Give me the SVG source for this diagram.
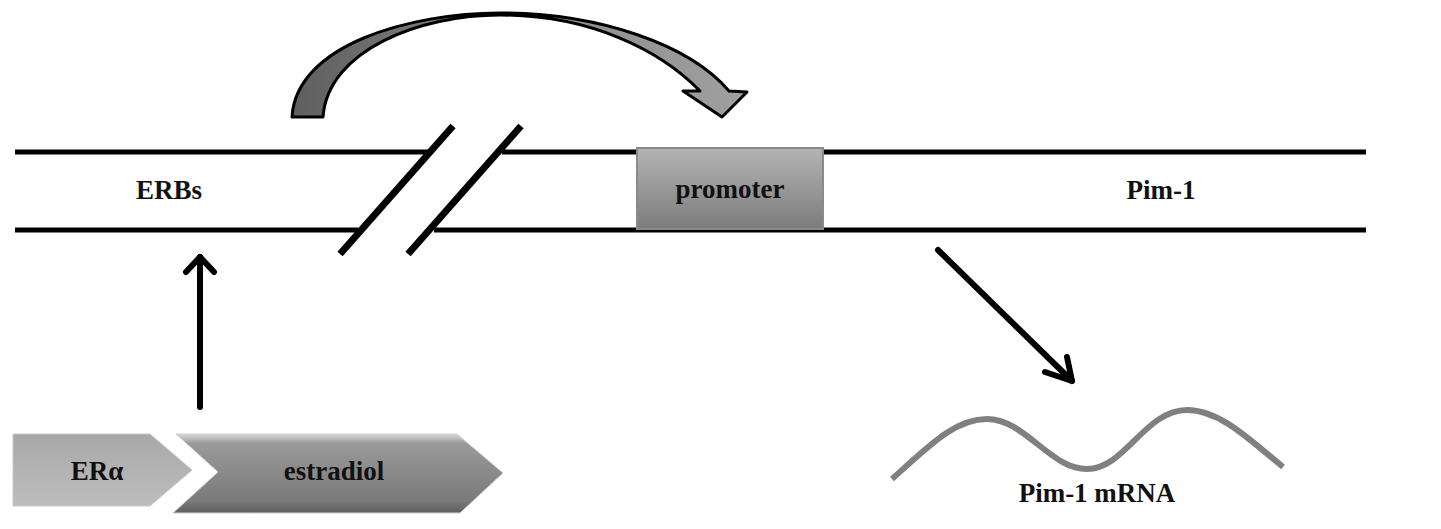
<svg xmlns="http://www.w3.org/2000/svg" width="1441" height="529" viewBox="0 0 1441 529">
<defs>
<linearGradient id="gBox" x1="0" y1="0" x2="0" y2="1"><stop offset="0" stop-color="#b4b4b4"/><stop offset="1" stop-color="#7c7c7c"/></linearGradient>
<linearGradient id="gCurve" x1="0" y1="0" x2="1" y2="0"><stop offset="0" stop-color="#5e5e5e"/><stop offset="0.5" stop-color="#8a8a8a"/><stop offset="1" stop-color="#a0a0a0"/></linearGradient>
<linearGradient id="gEr" x1="0" y1="0" x2="0" y2="1"><stop offset="0" stop-color="#a8a8a8"/><stop offset="1" stop-color="#bdbdbd"/></linearGradient>
<linearGradient id="gEs" x1="0" y1="0" x2="0" y2="1"><stop offset="0" stop-color="#d8d8d8"/><stop offset="0.12" stop-color="#9a9a9a"/><stop offset="0.85" stop-color="#7a7a7a"/><stop offset="1" stop-color="#5e5e5e"/></linearGradient>
<style>
.t{font-family:"Liberation Serif","Times New Roman",serif;font-weight:bold;font-size:27px;fill:#111;text-anchor:middle}
.dna{stroke:#000;stroke-width:5;fill:none}
.arr{stroke:#000;stroke-width:6;fill:none;stroke-linecap:round;stroke-linejoin:round}
</style>
</defs>
<rect width="1441" height="529" fill="#fff"/>
<g id="dna">
<line class="dna" x1="15" y1="152" x2="428" y2="152"/>
<line class="dna" x1="502" y1="152" x2="1366" y2="152"/>
<line class="dna" x1="15" y1="230" x2="358" y2="230"/>
<line class="dna" x1="434" y1="230" x2="1366" y2="230"/>
<line stroke="#000" stroke-width="7" x1="340" y1="254" x2="453" y2="126"/>
<line stroke="#000" stroke-width="7" x1="408" y1="254" x2="521" y2="126"/>
<text class="t" x="169" y="199">ERBs</text>
<text class="t" x="1161" y="199">Pim-1</text>
</g>
<g id="promoter">
<rect x="637" y="148" width="186" height="81" fill="url(#gBox)" stroke="#8a8a8a" stroke-width="2"/>
<text class="t" x="730" y="198">promoter</text>
</g>
<g id="curved-arrow">
<path d="M292,117 C296,45 410,13 500,13 C600,13 690,45 729,91 L747,92 L722,117 L683,91 L700,91 C660,50 590,15 500,15 C420,15 328,50 323,117 Z" fill="url(#gCurve)" stroke="#000" stroke-width="3" stroke-linejoin="round"/>
</g>
<g id="er-alpha">
<path d="M13,434 L150,434 L192,470 L150,506 L13,506 Z" fill="url(#gEr)" stroke="#c8c8c8" stroke-width="1"/>
<text class="t" x="97" y="480">ERα</text>
</g>
<g id="estradiol">
<path d="M176,434 L457,434 L503,473 L460,513 L173,513 L218,472 Z" fill="url(#gEs)" stroke="#d0d0d0" stroke-width="1"/>
<text class="t" x="334" y="480">estradiol</text>
</g>
<g id="mrna">
<path d="M892,479 C930,445 955,419 987,419 C1025,419 1050,469 1087,469 C1125,469 1145,410 1187,410 C1220,410 1250,440 1283,467" fill="none" stroke="#808080" stroke-width="6"/>
<text class="t" x="1097" y="502">Pim-1 mRNA</text>
</g>
<g id="connectors">
<line class="arr" x1="200" y1="407" x2="200" y2="257"/>
<polyline class="arr" points="186,272 200,257 214,272"/>
<line class="arr" x1="938" y1="250" x2="1072" y2="381"/>
<polyline class="arr" points="1045,372 1072,381 1067,357"/>
</g>
</svg>
